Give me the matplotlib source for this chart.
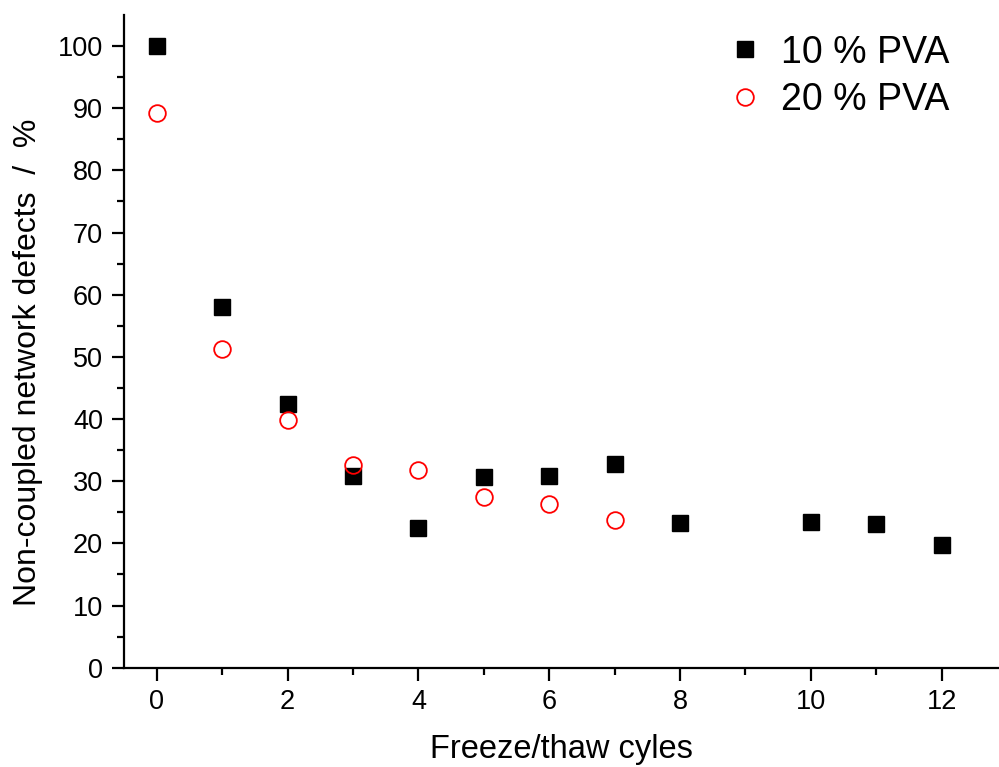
import numpy as np
import matplotlib.pyplot as plt

plt.rcParams['font.family'] = ['Liberation Sans', 'DejaVu Sans']

# freeze/thaw cycles and non-coupled network defects (%)
cycles_10 = [0, 1, 2, 3, 4, 5, 6, 7, 8, 10, 11, 12]
defects_10 = [100, 58.0, 42.4, 30.9, 22.4, 30.7, 30.8, 32.7, 23.3, 23.4, 23.1, 19.7]

cycles_20 = [0, 1, 2, 3, 4, 5, 6, 7]
defects_20 = [89.2, 51.3, 39.8, 32.6, 31.8, 27.4, 26.4, 23.7]

fig = plt.figure(figsize=(9.99, 7.67), dpi=100)
ax = fig.add_axes([0.1241, 0.1295, 0.8759, 0.851])

ax.plot(cycles_10, defects_10, 's', color='black', markersize=11,
        linestyle='none', label='10 % PVA')
ax.plot(cycles_20, defects_20, 'o', markerfacecolor='none', markeredgecolor='red',
        markeredgewidth=1.3, markersize=12, linestyle='none', label='20 % PVA')

ax.set_xlim(-0.5, 12.875)
ax.set_ylim(0, 105)
ax.set_xticks(np.arange(0, 13, 2))
ax.set_xticks(np.arange(1, 13, 2), minor=True)
ax.set_yticks(np.arange(0, 101, 10))
ax.set_yticks(np.arange(5, 105, 10), minor=True)

for side in ['top', 'right']:
    ax.spines[side].set_visible(False)
for side in ['left', 'bottom']:
    ax.spines[side].set_linewidth(1.6)

ax.tick_params(which='major', direction='out', length=9, width=1.6, labelsize=19.5, pad=6)
ax.tick_params(which='minor', direction='out', length=5, width=1.6)

ax.set_xlabel('Freeze/thaw cyles', fontsize=23.5, labelpad=14)
ax.set_ylabel('Non-coupled network defects  /  %', fontsize=23)
ax.yaxis.set_label_coords(-0.0925, 0.468)

ax.legend(loc='upper right', frameon=False, fontsize=27, handletextpad=0.45,
          labelspacing=0.3, borderaxespad=0.0, handlelength=1.0,
          bbox_to_anchor=(0.96, 0.993))

fig.savefig('out.png', dpi=100)
